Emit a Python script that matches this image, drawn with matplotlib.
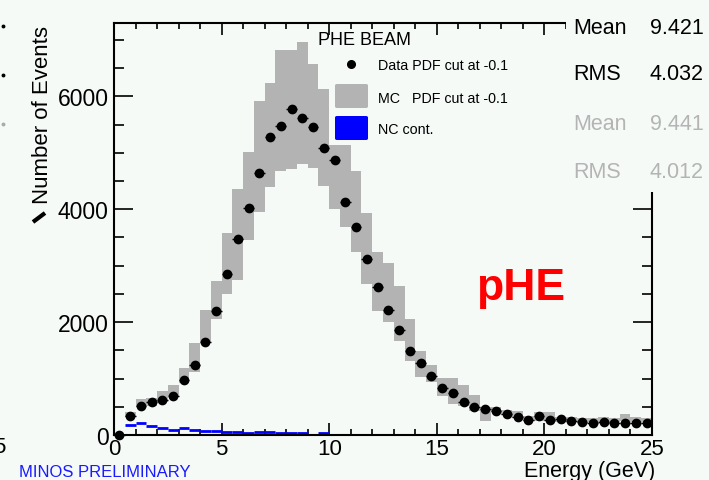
import numpy as np
import matplotlib
matplotlib.use("Agg")
import matplotlib.pyplot as plt
from matplotlib.patches import Rectangle, FancyBboxPatch
from matplotlib.lines import Line2D
from matplotlib.ticker import MultipleLocator

plt.rcParams['font.family'] = ['Liberation Sans', 'DejaVu Sans']

# ---- histogram contents: 50 bins of 0.5 GeV from 0 to 25 GeV ----
bin_edges = np.arange(0, 25.01, 0.5)

data_counts = [0, 340, 510, 590, 625, 695, 975, 1240, 1645, 2190,
               2860, 3465, 4025, 4635, 5280, 5480, 5770, 5610, 5455, 5090,
               4875, 4135, 3680, 3110, 2620, 2210, 1865, 1480, 1275, 1045,
               840, 740, 590, 495, 460, 420, 375, 315, 270, 340,
               260, 280, 250, 235, 210, 225, 205, 205, 205, 210]

mc_low = [0, 320, 500, 520, 585, 690, 920, 1115, 1640, 2050,
          2500, 2750, 3450, 3950, 4400, 4670, 4710, 4800, 4725, 4410,
          4010, 3690, 3245, 2675, 2200, 1995, 1670, 1315, 1020, 945,
          695, 550, 510, 430, 255, 400, 355, 300, 250, 255,
          255, 230, 225, 225, 225, 225, 230, 253, 225, 225]

mc_high = [0, 410, 640, 650, 780, 885, 1185, 1630, 2220, 2730,
           3575, 4355, 5010, 5915, 6240, 6830, 6830, 6960, 6565, 6135,
           5130, 5130, 4680, 3940, 3235, 3055, 2645, 2050, 1495, 1240,
           1005, 1005, 885, 710, 500, 500, 440, 420, 330, 400,
           400, 320, 315, 310, 310, 315, 310, 372, 315, 310]

nc_counts = [np.nan, 183, 218, 165, 118, 94, 124, 94, 77, 65,
             60, 47, 35, 47, 47, 35, 35, 35, np.nan, 35]

stats_data = [("Mean", "9.421"), ("RMS", "4.032")]
stats_mc = [("Mean", "9.441"), ("RMS", "4.012")]

legend_title = "PHE BEAM"
legend_labels = ["Data PDF cut at -0.1", "MC   PDF cut at -0.1", "NC cont."]

BG = '#f5faf7'
W, H = 709, 481


def fx(x):
    return x / W


def fy(y):
    return 1 - y / H


fig = plt.figure(figsize=(W / 100, H / 100), dpi=100, facecolor=BG)
ax = fig.add_axes([fx(114), fy(436), fx(652) - fx(114), fy(24) - fy(436)])
ax.set_facecolor(BG)

centers = 0.5 * (bin_edges[:-1] + bin_edges[1:])
lefts = bin_edges[:-1]
rights = bin_edges[1:]

# MC band
lo = np.array(mc_low, float)
hi = np.array(mc_high, float)
ax.bar(centers, hi - lo, bottom=lo, width=0.5, color='#b3b3b3',
       linewidth=0, zorder=2)

# NC contribution as horizontal histogram steps
nc = np.array(nc_counts, float)
n_nc = len(nc)
ax.hlines(nc, lefts[:n_nc], rights[:n_nc], color='#0000ff', lw=2.0, zorder=3)

# data points
ax.errorbar(centers, data_counts, xerr=0.25, fmt='o', color='black',
            ms=6.0, elinewidth=1.0, capsize=0, zorder=4, clip_on=False)

ax.set_xlim(0, 25)
ax.set_ylim(0, 7300)

ax.xaxis.set_major_locator(MultipleLocator(5))
ax.xaxis.set_minor_locator(MultipleLocator(1))
ax.yaxis.set_major_locator(MultipleLocator(2000))
ax.yaxis.set_minor_locator(MultipleLocator(500))

ax.tick_params(axis='x', which='both', direction='in', top=True, bottom=True,
               labelsize=16, pad=2.5, width=1.2, color='black')
ax.tick_params(axis='x', which='major', length=8.5)
ax.tick_params(axis='x', which='minor', length=4.3)
ax.tick_params(axis='y', which='both', direction='in', left=True, right=True,
               labelsize=16.5, pad=4, width=1.2)
ax.tick_params(axis='y', which='major', length=13.5)
ax.tick_params(axis='y', which='minor', length=7)

for s in ax.spines.values():
    s.set_linewidth(1.5)
    s.set_zorder(5)

# axis titles
fig.text(fx(43), fy(115), "Number of Events", rotation=90, fontsize=16,
         ha='center', va='center')
fig.text(fx(655), fy(477), "Energy (GeV)", fontsize=15.5, ha='right',
         va='baseline')
fig.text(fx(19), fy(477), "MINOS PRELIMINARY", fontsize=12, color='#1a1aff',
         ha='left', va='baseline')

# beam label
fig.text(fx(521), fy(300), "pHE", fontsize=32, fontweight='bold',
         color='#ff0000', ha='center', va='baseline')

# legend
fig.text(fx(318), fy(41), legend_title, fontsize=13, ha='left', va='center')
fig.add_artist(Line2D([fx(351)], [fy(65)], marker='o', ms=5.5, color='black',
                      transform=fig.transFigure))
fig.patches.append(FancyBboxPatch((fx(335), fy(109)), fx(33), fy(85) - fy(109),
                                  boxstyle='round,pad=0,rounding_size=0.003',
                                  transform=fig.transFigure, facecolor='#b3b3b3',
                                  edgecolor='none'))
fig.patches.append(FancyBboxPatch((fx(335), fy(141)), fx(33), fy(117) - fy(141),
                                  boxstyle='round,pad=0,rounding_size=0.003',
                                  transform=fig.transFigure, facecolor='#0000ff',
                                  edgecolor='none'))
for label, yy in zip(legend_labels, [66, 99, 130]):
    fig.text(fx(378), fy(yy), label, fontsize=10.3, ha='left', va='center')

# statistics box covering the top-right corner
fig.patches.append(Rectangle((fx(566), fy(193)), 1 - fx(566), fy(0) - fy(193),
                             transform=fig.transFigure, facecolor=BG,
                             edgecolor='none', zorder=3))
rows = [(stats_data, 'black', [28, 75]), (stats_mc, '#b4b4b4', [125, 173])]
for stats, col, ys in rows:
    for (name, val), yy in zip(stats, ys):
        fig.text(fx(573), fy(yy), name, fontsize=15.5, color=col,
                 ha='left', va='center', zorder=4)
        fig.text(fx(704), fy(yy), val, fontsize=15.5, color=col,
                 ha='right', va='center', zorder=4)

# fragments along the left edge
fig.add_artist(Line2D([fx(33), fx(45)], [fy(223), fy(214)], lw=3.0,
                      color='black', solid_capstyle='butt',
                      transform=fig.transFigure))
fig.add_artist(Line2D([fx(3), fx(3)], [fy(27), fy(76)], ls='none', marker='o',
                      ms=1.8, color='black', transform=fig.transFigure))
fig.add_artist(Line2D([fx(3)], [fy(125)], ls='none', marker='o',
                      ms=1.8, color='#aaaaaa', transform=fig.transFigure))
fig.text(fx(5.5), fy(453), "5", fontsize=16, ha='right', va='baseline')

fig.savefig("out.png", dpi=100, facecolor=BG)
